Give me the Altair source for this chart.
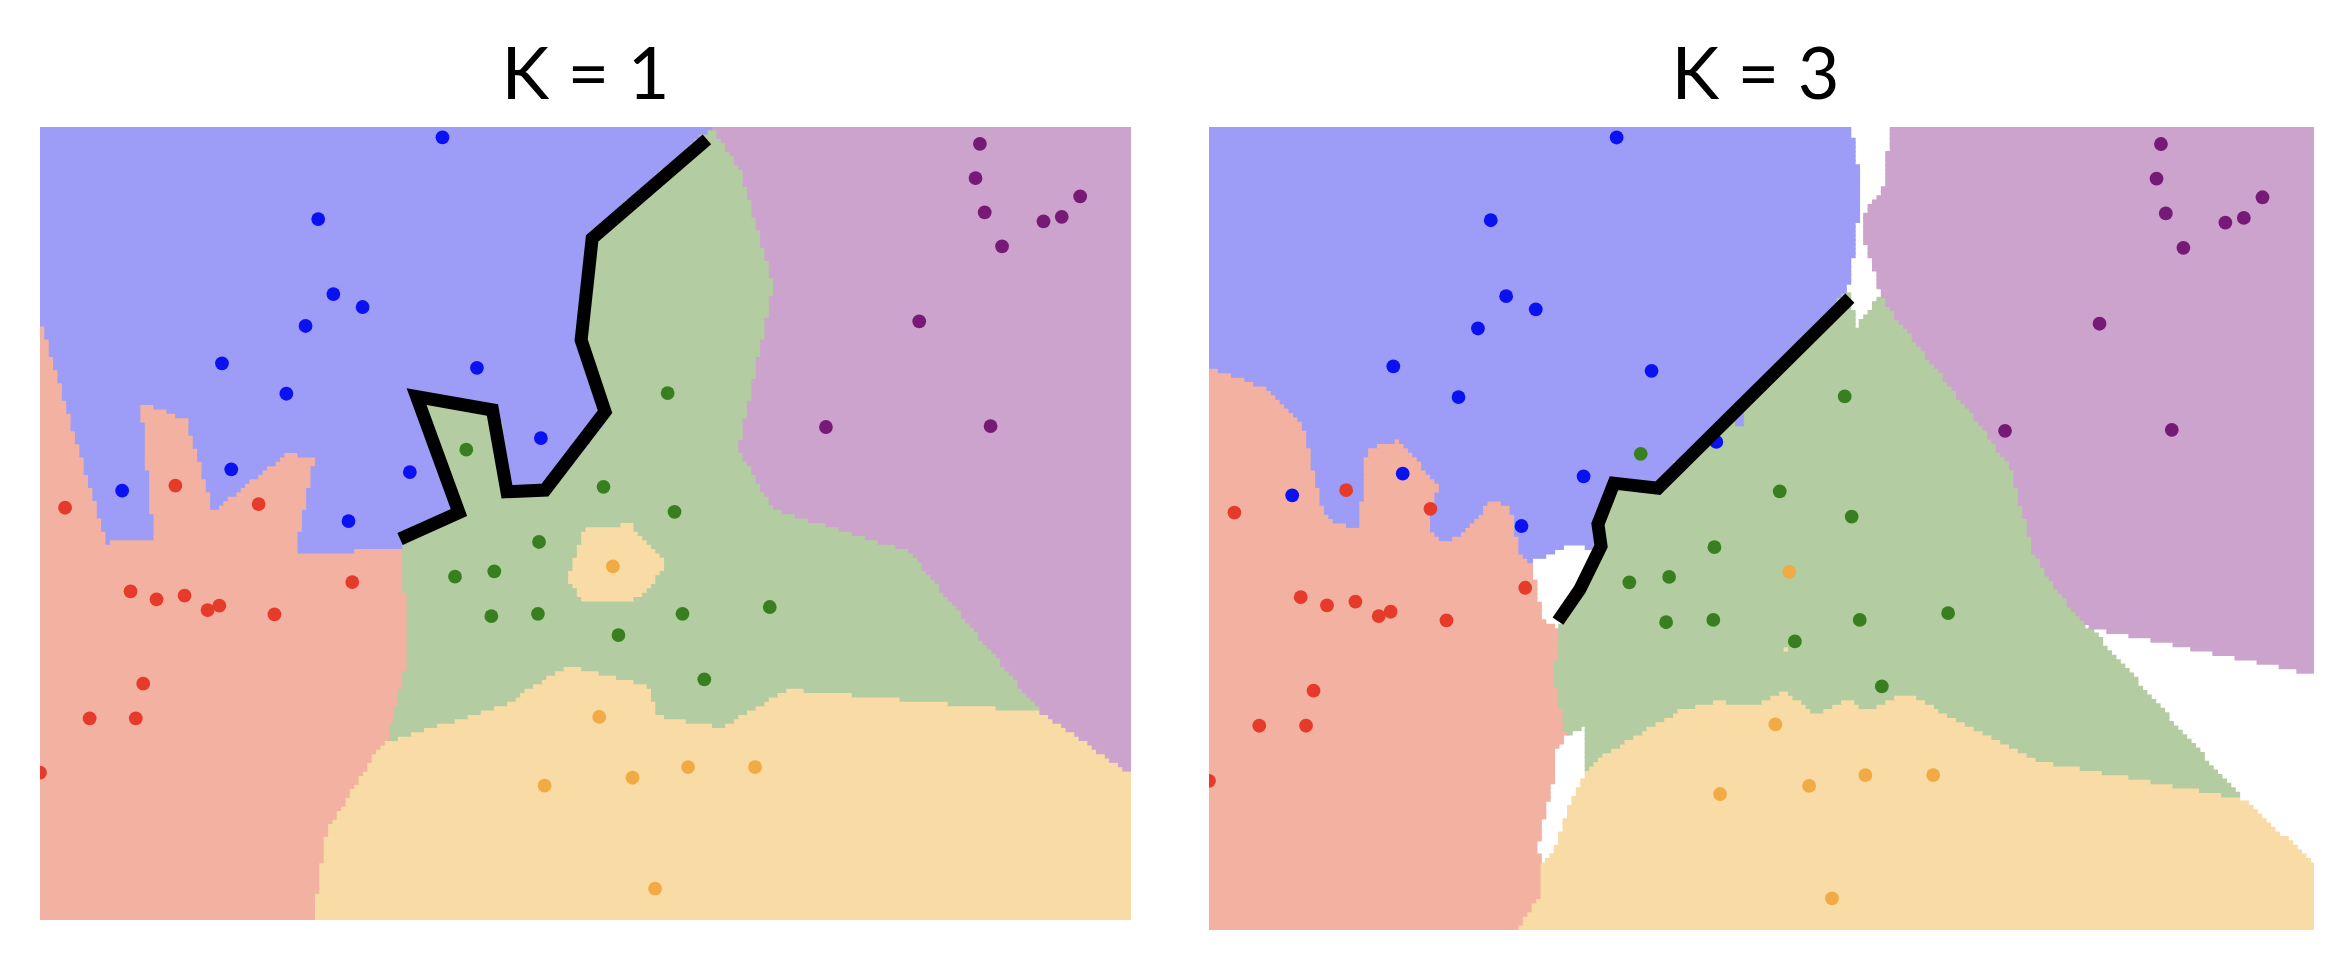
import altair as alt
import numpy as np
import pandas as pd

alt.data_transformers.disable_max_rows()

# ---- training points (data units; plot spans x 0..100, y 0..72.7) ----
blue_x = [36.89, 25.5, 26.89, 29.57, 24.34, 16.68, 22.58, 40.05, 7.53, 17.53, 33.9, 28.28, 45.91]
blue_y = [71.74, 64.25, 57.38, 56.19, 54.45, 51.03, 48.24, 50.62, 39.35, 41.31, 41.06, 36.57, 44.18]

red_x = [2.3, 12.41, 20.04, 28.62, 8.3, 10.68, 13.25, 15.36, 16.44, 21.49, 9.46, 4.55, 8.78, 0.0]
red_y = [37.79, 39.81, 38.13, 30.98, 30.13, 29.39, 29.73, 28.41, 28.81, 28.02, 21.66, 18.49, 18.49, 13.5]

green_x = [39.07, 51.65, 57.53, 58.16, 45.74, 38.04, 41.64, 41.37, 45.64, 58.89, 66.89, 53.02, 60.89]
green_y = [43.11, 39.71, 48.3, 37.42, 34.65, 31.47, 31.96, 27.86, 28.07, 28.07, 28.69, 26.12, 22.06]

orange_x = [52.51, 51.26, 46.25, 54.31, 59.4, 65.54, 56.38]
orange_y = [32.42, 18.61, 12.31, 13.04, 14.02, 14.02, 2.87]

purple_x = [86.15, 85.75, 86.59, 88.18, 91.98, 93.65, 95.34, 80.59, 72.04, 87.13]
purple_y = [71.15, 68.01, 64.87, 61.75, 64.04, 64.46, 66.33, 54.88, 45.19, 45.28]

classes = ["blue", "red", "green", "orange", "purple"]
region_colors = ["#9d9cf6", "#f2b1a1", "#b3cca1", "#f8dba5", "#cca3cc"]
point_colors = ["#0a12f2", "#e63a2b", "#38801f", "#f2aa44", "#761977"]

titles = ["K = 1", "K = 3"]

# ---- hand-drawn boundary lines ----
line1_x = [61.13, 50.61, 49.6, 51.79, 46.29, 42.8, 41.47, 34.52, 38.4, 33.0]
line1_y = [71.56, 62.48, 53.16, 46.59, 39.41, 39.26, 46.75, 47.97, 37.35, 34.92]
line3_x = [58.0, 40.63, 36.65, 35.2, 35.48, 33.57, 31.58]
line3_y = [57.2, 40.0, 40.45, 36.74, 34.75, 30.86, 27.96]

XMAX, YMAX = 100.0, 72.69
STEP = 0.4
OVER = 0.12  # small overlap between neighbouring cells to hide anti-alias seams

pts_x = blue_x + red_x + green_x + orange_x + purple_x
pts_y = blue_y + red_y + green_y + orange_y + purple_y
pts_c = (["blue"] * len(blue_x) + ["red"] * len(red_x) + ["green"] * len(green_x)
         + ["orange"] * len(orange_x) + ["purple"] * len(purple_x))
points_df = pd.DataFrame({"x": pts_x, "y": pts_y, "cls": pts_c})


def knn_regions(k):
    px = np.array(pts_x)
    py = np.array(pts_y)
    lab = np.array([classes.index(c) for c in pts_c])
    xs = np.arange(0, XMAX, STEP)
    ys = np.arange(0, YMAX, STEP)
    cx = xs + STEP / 2
    cy = ys + STEP / 2
    GX, GY = np.meshgrid(cx, cy)
    d = (GX[..., None] - px) ** 2 + (GY[..., None] - py) ** 2
    nn = np.argsort(d, axis=-1)[..., :k]
    nl = lab[nn]
    counts = np.stack([(nl == c).sum(-1) for c in range(len(classes))], -1)
    best = counts.argmax(-1)
    mx = counts.max(-1)
    if k > 1:
        best = np.where(mx * 2 > k, best, -1)
    rows = []
    for j, y0 in enumerate(ys):
        y1 = min(y0 + STEP + OVER, YMAX)
        row = best[j]
        start = 0
        for i in range(1, len(xs) + 1):
            if i == len(xs) or row[i] != row[start]:
                if row[start] >= 0:
                    rows.append({"x1": xs[start], "x2": min(xs[i - 1] + STEP + OVER, XMAX),
                                 "y1": y0, "y2": y1, "cls": classes[row[start]]})
                start = i
    return pd.DataFrame(rows)


def panel(k, title, w, h, lx, ly, ty, tx):
    xs = alt.Scale(domain=[0, XMAX], nice=False, zero=False)
    ys = alt.Scale(domain=[0, YMAX], nice=False, zero=False)
    reg = knn_regions(k)
    rect = alt.Chart(reg).mark_rect(strokeWidth=0).encode(
        x=alt.X("x1:Q", scale=xs, axis=None),
        x2="x2:Q",
        y=alt.Y("y1:Q", scale=ys, axis=None),
        y2="y2:Q",
        fill=alt.Fill("cls:N", scale=alt.Scale(domain=classes, range=region_colors), legend=None),
    )
    pts = alt.Chart(points_df).mark_circle(size=190, opacity=1, clip=True).encode(
        x=alt.X("x:Q", scale=xs, axis=None),
        y=alt.Y("y:Q", scale=ys, axis=None),
        color=alt.Color("cls:N", scale=alt.Scale(domain=classes, range=point_colors), legend=None),
    )
    ldf = pd.DataFrame({"x": lx, "y": ly, "i": list(range(len(lx)))})
    line = alt.Chart(ldf).mark_line(color="black", strokeWidth=13, strokeCap="butt",
                                    strokeJoin="miter").encode(
        x=alt.X("x:Q", scale=xs, axis=None),
        y=alt.Y("y:Q", scale=ys, axis=None),
        order=alt.Order("i:Q"),
    )
    ttl = alt.Chart(pd.DataFrame({"t": [title]})).mark_text(
        font="Lato", fontSize=72, fontWeight="normal", color="black",
        align="center", baseline="alphabetic",
    ).encode(text="t:N", x=alt.value(tx), y=alt.value(ty))
    return alt.layer(rect, pts, line, ttl).properties(width=w, height=h)


p1 = panel(1, titles[0], 1091, 793, line1_x, line1_y, -28, 1091 / 2)
p3 = panel(3, titles[1], 1105, 803, line3_x, line3_y, -28, 1105 / 2 - 6)

chart = alt.hconcat(p1, p3, spacing=78).resolve_scale(
    x="independent", y="independent"
).configure_view(stroke=None).properties(
    padding={"left": 32, "top": 33, "right": 5, "bottom": 5}
)

chart.save("out.html", embed_options={"renderer": "svg", "actions": False})
